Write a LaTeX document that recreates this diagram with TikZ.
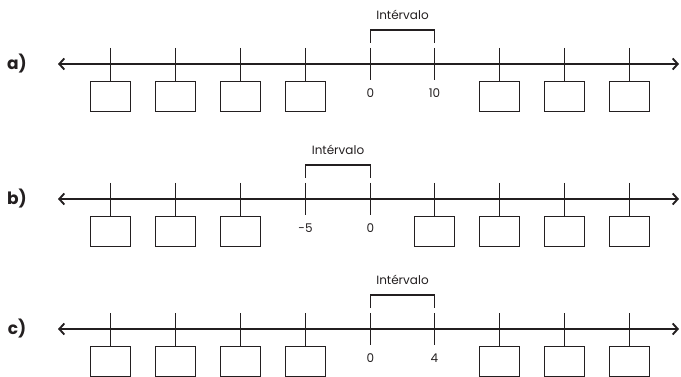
\documentclass[tikz,border=0pt]{standalone}
\usepackage{fontspec}
\setmainfont{Poppins}
\usetikzlibrary{arrows.meta,calc}
\definecolor{ink}{HTML}{231F20}
\tikzset{
  axisline/.style={draw=ink, line width=1.8pt, {Straight Barb[length=5pt,width=11pt,line width=1.9pt]}-{Straight Barb[length=5pt,width=11pt,line width=1.9pt]}},
  tickline/.style={draw=ink, line width=1.2pt},
  answerbox/.style={draw=ink, line width=1.1pt, minimum width=40pt, minimum height=30pt, inner sep=0pt, anchor=north},
  numlabel/.style={text=ink, font=\fontsize{12}{14}\selectfont, inner sep=0pt},
  rowlabel/.style={text=ink, font=\bfseries\fontsize{17}{19}\selectfont, inner sep=0pt},
  bracketline/.style={draw=ink, line width=1.2pt},
}
\newcommand{\tx}[1]{\ifcase#1 110.5\or 175.5\or 240.5\or 305.5\or 370.5\or 434.5\or 499.5\or 564.5\or 629.5\fi}
\begin{document}
\begin{tikzpicture}[x=1pt,y=-1pt]
\useasboundingbox (0,0) rectangle (681,377);
\foreach \r/\ay/\boxes/\li/\lt/\lj/\ltt/\lab in {
  a/64/{0,1,2,3,6,7,8}/4/0/5/10/a),
  b/199/{0,1,2,5,6,7,8}/3/-5/4/0/b),
  c/329/{0,1,2,3,6,7,8}/4/0/5/4/c)}{
  \node[rowlabel] (\r-lab) at (17,\ay) {\lab};
  \coordinate (\r-L) at (58,\ay);
  \coordinate (\r-R) at (679,\ay);
  \draw[axisline] (\r-L) -- (\r-R);
  \foreach \i in \boxes {
    \coordinate (\r-t\i) at (\tx{\i},{\ay-16});
    \node[answerbox] (\r-box\i) at (\tx{\i},{\ay+17}) {};
    \draw[tickline] (\r-t\i) -- (\r-box\i.north);
  }
  \coordinate (\r-t\li) at (\tx{\li},{\ay-16});
  \coordinate (\r-b\li) at (\tx{\li},{\ay+16});
  \coordinate (\r-t\lj) at (\tx{\lj},{\ay-16});
  \coordinate (\r-b\lj) at (\tx{\lj},{\ay+16});
  \draw[tickline] (\r-t\li) -- (\r-b\li);
  \draw[tickline] (\r-t\lj) -- (\r-b\lj);
  \node[numlabel] (\r-n\li) at (\tx{\li},{\ay+29}) {\lt};
  \node[numlabel] (\r-n\lj) at (\tx{\lj},{\ay+29}) {\ltt};
  \coordinate (\r-k1) at (\tx{\li},{\ay-21});
  \coordinate (\r-k2) at (\tx{\li},{\ay-34});
  \coordinate (\r-k3) at (\tx{\lj},{\ay-34});
  \coordinate (\r-k4) at (\tx{\lj},{\ay-21});
  \draw[bracketline] (\r-k1) -- (\r-k2) -- (\r-k3) -- (\r-k4);
  \node[numlabel] (\r-int) at ($(\r-k2)!0.5!(\r-k3)+(0,-15)$) {Intérvalo};
}
\end{tikzpicture}
\end{document}
